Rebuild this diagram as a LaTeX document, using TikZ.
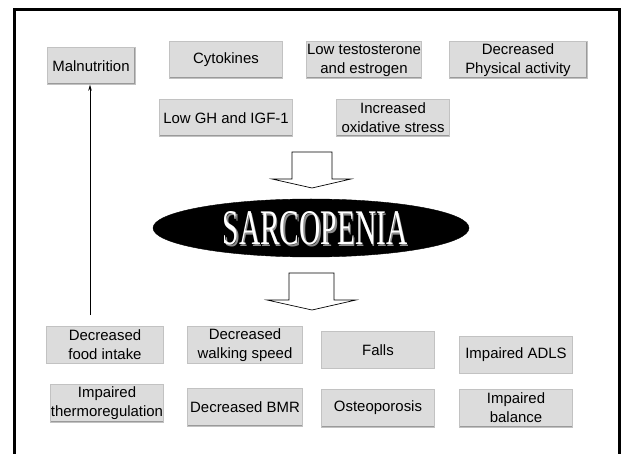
\documentclass[tikz,border=0pt]{standalone}
\usepackage{fontspec}
\usetikzlibrary{shapes.geometric,arrows.meta}
\newfontfamily\boxfont{Liberation Sans}
\newfontfamily\sarfont{Liberation Serif}
\definecolor{boxgray}{HTML}{DCDCDC}
\definecolor{edgedark}{HTML}{9A9A9A}
\definecolor{shadowgray}{HTML}{8C8C8C}
\begin{document}
\begin{tikzpicture}[x=1bp,y=-1bp,
  fbox/.style={fill=boxgray, draw=edgedark!60, line width=0.5bp, inner sep=0pt, align=center,
    font=\boxfont\fontsize{15}{19}\selectfont,
    path picture={\draw[edgedark,line width=2bp]
      (path picture bounding box.north east) -- (path picture bounding box.south east)
      -- (path picture bounding box.south west);}},
  blockarrow/.style={draw=black, fill=white, line width=0.7bp, line join=miter},
  link/.style={draw=black, line width=0.7bp, -{Stealth[length=6bp,width=3.5bp]}}]
\useasboundingbox (0,0) rectangle (625,454);
\fill[white] (0,0) rectangle (625,454);
% frame (open at bottom)
\draw[line width=3bp] (14,460) -- (14,10) -- (619,10) -- (619,460);

% causes
\node[fbox, minimum width=88bp, minimum height=37bp] (mal) at (91,66) {Malnutrition};
\node[fbox, minimum width=113bp, minimum height=37bp] (cyt) at (226,60) {Cytokines};
\node[fbox, minimum width=115bp, minimum height=37bp] (tes) at (364,60) {Low testosterone\\and estrogen};
\node[fbox, minimum width=138bp, minimum height=37bp] (phy) at (518,60) {Decreased\\Physical activity};
\node[fbox, minimum width=133bp, minimum height=37bp] (gh) at (226,118) {Low GH and IGF-1};
\node[fbox, minimum width=113bp, minimum height=37bp] (oxi) at (393,118) {Increased\\oxidative stress};

% top block arrow
\draw[blockarrow] (292,152) -- (332,152) -- (332,179) -- (351,179) -- (312,188) -- (272,179) -- (292,179) -- cycle;

% sarcopenia ellipse
\node[ellipse, fill=black, draw=black, minimum width=316bp, minimum height=58bp, inner sep=0pt] (sar) at (311,228) {};
\node[anchor=base, text=shadowgray, inner sep=0pt] (sarsh) at (316.5,246.5)
  {\scalebox{0.59}[1]{\sarfont\fontsize{50}{50}\selectfont SARCOPENIA}};
\node[anchor=base, text=white, inner sep=0pt] (sartxt) at (315,245)
  {\scalebox{0.59}[1]{\sarfont\fontsize{50}{50}\selectfont SARCOPENIA}};

% bottom block arrow
\draw[blockarrow] (289,273) -- (334,273) -- (334,300) -- (356,300) -- (312,310) -- (267,300) -- (289,300) -- cycle;

% consequences
\node[fbox, minimum width=117bp, minimum height=37bp] (food) at (105,345) {Decreased\\food intake};
\node[fbox, minimum width=115bp, minimum height=37bp] (walk) at (245,345) {Decreased\\walking speed};
\node[fbox, minimum width=113bp, minimum height=37bp] (falls) at (378,350) {Falls};
\node[fbox, minimum width=113bp, minimum height=37bp] (adls) at (516,355) {Impaired ADLS};
\node[fbox, minimum width=113bp, minimum height=38bp] (thermo) at (107,403) {Impaired\\thermoregulation};
\node[fbox, minimum width=115bp, minimum height=38bp] (bmr) at (245,407) {Decreased BMR};
\node[fbox, minimum width=113bp, minimum height=38bp] (osteo) at (378,408) {Osteoporosis};
\node[fbox, minimum width=113bp, minimum height=38bp] (bal) at (516,408) {Impaired\\balance};

% feedback arrow from food intake to malnutrition
\coordinate (fstart) at (90,315);
\draw[link] (fstart) -- (fstart |- mal.south);
\end{tikzpicture}
\end{document}
